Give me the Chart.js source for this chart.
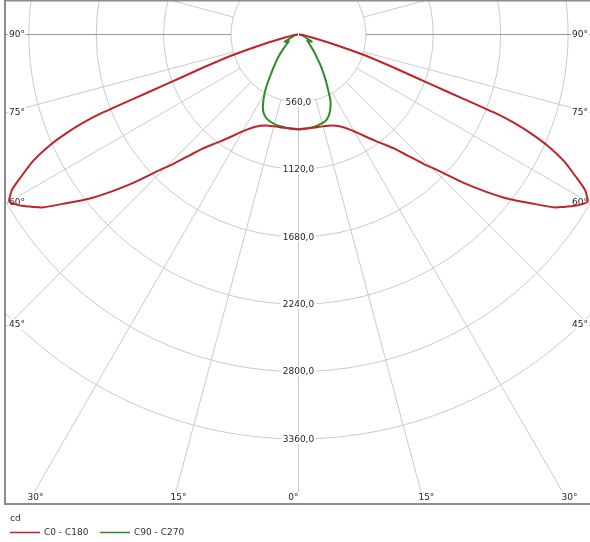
<!DOCTYPE html>
<html>
<head>
<meta charset="utf-8">
<script src="https://cdn.jsdelivr.net/npm/chart.js@4/dist/chart.umd.min.js"></script>
<style>
  html, body { margin: 0; padding: 0; background: #ffffff; }
  canvas { display: block; }
</style>
</head>
<body>
<canvas id="c" width="590" height="542"></canvas>
<script>
// Luminous intensity distribution, angles from nadir in degrees, values in cd.

// C0 - C180 plane (symmetric, same profile on both halves)
const redAngles = [0, 5, 10, 15, 20, 25, 28, 30, 33, 36, 38, 40, 42, 44, 46, 48, 50, 52, 54, 56, 57, 58, 59, 60,
                   61.5, 62.7, 64.5, 66, 67, 67.7, 68.2, 68.7, 69.4, 70.7, 72.6, 74.9, 77.5, 82, 86, 90];
const redCd     = [790, 786, 785, 790, 805, 845, 890, 930, 1005, 1095, 1160, 1235, 1350, 1490, 1640, 1840, 2030, 2220, 2385, 2570, 2630, 2690, 2740, 2775,
                   2709, 2603, 2444, 2260, 2090, 1936, 1777, 1476, 1167, 867, 570, 271, 115, 50, 25, 5];

// C90 - C270 plane
const greenAnglesC90  = [0, 5, 10, 15, 18, 21, 24, 26, 28, 30, 33, 36, 39, 42, 45, 48, 52, 56, 60, 62, 64, 68, 75, 82, 90];
const greenCdC90      = [785, 782, 778, 762, 748, 712, 655, 605, 528, 465, 380, 305, 240, 195, 160, 130, 105, 88, 118, 125, 92, 65, 40, 20, 5];
const greenAnglesC270 = [0, 5, 10, 14, 18, 21, 24, 26, 28, 30, 32, 34, 36, 38, 40, 42, 45, 48, 52, 56, 60, 62, 64, 68, 75, 82, 90];
const greenCdC270     = [785, 782, 778, 774, 760, 745, 712, 675, 620, 560, 495, 425, 372, 322, 285, 248, 198, 152, 118, 95, 122, 128, 95, 65, 40, 20, 5];

// Grid rings and their labels
const ringValues = [560, 1120, 1680, 2240, 2800, 3360];
const ringLabels = ['560,0', '1120,0', '1680,0', '2240,0', '2800,0', '3360,0'];

// Spoke angles that carry a label at the frame edge
const spokeAngles = [0, 15, 30, 45, 60, 75, 90];
const spokeLabels = ['0°', '15°', '30°', '45°', '60°', '75°', '90°'];

const seriesNames = ['C0 - C180', 'C90 - C270'];
const unitLabel = 'cd';

const RED = '#bf2428';
const GREEN = '#2b8a2b';

// Polar (angle from nadir, intensity) -> cartesian cd coordinates; side -1 = left half, +1 = right half
function polarPoints(angles, values, side) {
  return angles.map((g, i) => {
    const t = g * Math.PI / 180;
    return { x: side * values[i] * Math.sin(t), y: -values[i] * Math.cos(t) };
  });
}

function fullCurve(anglesL, valuesL, anglesR, valuesR) {
  const left = polarPoints(anglesL, valuesL, -1).reverse();
  const right = polarPoints(anglesR, valuesR, 1).slice(1);
  return left.concat(right);
}

const polarGrid = {
  id: 'polarGrid',
  beforeDatasetsDraw(chart) {
    const { ctx, chartArea: a, scales: { x, y } } = chart;
    const cx = x.getPixelForValue(0);
    const cy = y.getPixelForValue(0);
    const k = Math.abs(x.getPixelForValue(1000) - cx) / 1000;

    ctx.save();
    ctx.beginPath();
    ctx.rect(a.left, a.top, a.right - a.left, a.bottom - a.top);
    ctx.clip();

    // rings
    ctx.lineWidth = 1;
    ctx.strokeStyle = '#cacaca';
    ringValues.forEach(v => {
      ctx.beginPath();
      ctx.arc(cx, cy, v * k, 0, Math.PI * 2);
      ctx.stroke();
    });

    // spokes every 15 degrees, starting at the first ring
    const r0 = ringValues[0] * k;
    const r1 = 2000;
    for (let d = 0; d < 360; d += 15) {
      const t = d * Math.PI / 180;
      ctx.strokeStyle = (d === 90 || d === 270) ? '#959595' : '#cacaca';
      ctx.beginPath();
      ctx.moveTo(cx + Math.sin(t) * r0, cy + Math.cos(t) * r0);
      ctx.lineTo(cx + Math.sin(t) * r1, cy + Math.cos(t) * r1);
      ctx.stroke();
    }

    ctx.font = '9px "DejaVu Sans"';
    ctx.textBaseline = 'middle';

    // ring labels on the vertical axis
    ctx.textAlign = 'center';
    ringValues.forEach((v, i) => {
      const yy = cy + v * k;
      const w = ctx.measureText(ringLabels[i]).width;
      ctx.fillStyle = '#ffffff';
      ctx.fillRect(cx - w / 2 - 2, yy - 5, w + 4, 10);
      ctx.fillStyle = '#262626';
      ctx.fillText(ringLabels[i], cx, yy + 0.5);
    });

    // spoke labels where the spokes meet the frame
    const xL = a.left + 4, xR = a.right - 2, yB = a.bottom - 7;
    [-1, 1].forEach(side => {
      spokeAngles.forEach((g, i) => {
        if (g === 0 && side === 1) return;
        const t = g * Math.PI / 180;
        const s = Math.sin(t), c = Math.cos(t);
        const tX = s > 1e-9 ? (side < 0 ? (cx - xL) : (xR - cx)) / s : Infinity;
        const tY = c > 1e-9 ? (yB - cy) / c : Infinity;
        const txt = spokeLabels[i];
        const w = ctx.measureText(txt).width;
        let px, py;
        if (tX < tY) {
          py = cy + c * tX;
          px = side < 0 ? xL : xR - w;
        } else {
          const hit = cx + side * s * tY;
          // the nadir label sits just left of the axis, the others just right of their spoke
          px = g === 0 ? hit - w : hit - w / 2 + 4;
          py = yB;
        }
        ctx.fillStyle = '#ffffff';
        ctx.fillRect(px - 1, py - 5, w + 2, 10);
        ctx.fillStyle = '#262626';
        ctx.textAlign = 'left';
        ctx.fillText(txt, px, py + 0.5);
      });
    });
    ctx.restore();
  },
  afterDraw(chart) {
    const { ctx, chartArea: a } = chart;
    ctx.save();
    // frame
    ctx.strokeStyle = '#8c8c8c';
    ctx.lineWidth = 2;
    ctx.beginPath();
    ctx.moveTo(a.right + 2, a.top + 0.5);
    ctx.lineTo(a.left, a.top + 0.5);
    ctx.lineTo(a.left, a.bottom);
    ctx.lineTo(a.right + 2, a.bottom);
    ctx.stroke();

    // legend
    ctx.font = '9px "DejaVu Sans"';
    ctx.textBaseline = 'middle';
    ctx.textAlign = 'left';
    ctx.fillStyle = '#333333';
    ctx.fillText(unitLabel, a.left + 5, a.bottom + 15);
    let lx = a.left + 5;
    const ly = a.bottom + 28.5;
    chart.data.datasets.forEach(ds => {
      ctx.strokeStyle = ds.borderColor;
      ctx.lineWidth = 1.5;
      ctx.beginPath();
      ctx.moveTo(lx, ly);
      ctx.lineTo(lx + 30, ly);
      ctx.stroke();
      ctx.fillStyle = '#333333';
      ctx.fillText(ds.label, lx + 34, ly + 0.5);
      lx += 90;
    });
    ctx.restore();
  }
};

new Chart(document.getElementById('c'), {
  type: 'scatter',
  data: {
    datasets: [
      {
        label: seriesNames[0],
        data: fullCurve(redAngles, redCd, redAngles, redCd),
        borderColor: RED,
        borderWidth: 2,
        showLine: true,
        pointRadius: 0,
        tension: 0.2
      },
      {
        label: seriesNames[1],
        data: fullCurve(greenAnglesC270, greenCdC270, greenAnglesC90, greenCdC90),
        borderColor: GREEN,
        borderWidth: 2,
        showLine: true,
        pointRadius: 0,
        tension: 0.2
      }
    ]
  },
  options: {
    responsive: false,
    animation: false,
    layout: { padding: { left: 5, right: 0, top: 0, bottom: 38 } },
    plugins: { legend: { display: false }, tooltip: { enabled: false } },
    scales: {
      x: { type: 'linear', min: -2438, max: 2422, display: false },
      y: { type: 'linear', min: -3901, max: 287, display: false }
    }
  },
  plugins: [polarGrid]
});
</script>
</body>
</html>
